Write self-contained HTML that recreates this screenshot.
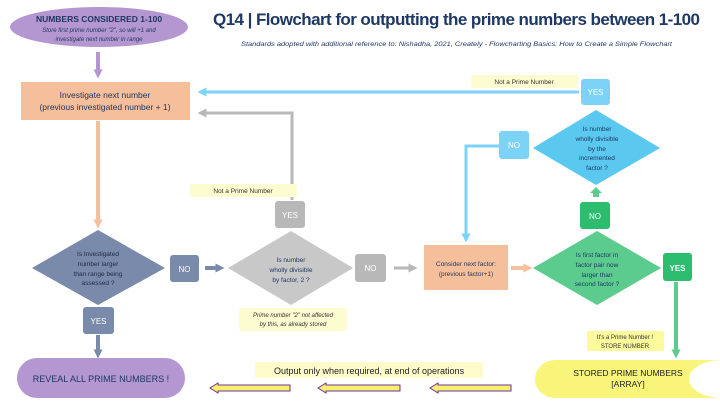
<!DOCTYPE html>
<html><head><style>body{margin:0;background:#fff}svg{display:block}text{font-family:"Liberation Sans",sans-serif}</style></head><body>
<svg width="720" height="405" viewBox="0 0 720 405" xmlns="http://www.w3.org/2000/svg">
<defs>
<marker id="a" markerWidth="9" markerHeight="9" refX="4.5" refY="4.5" orient="auto" markerUnits="userSpaceOnUse"><path d="M0,0L9,4.5L0,9z" fill="context-stroke"/></marker>
</defs>
<ellipse cx="99" cy="27" rx="89" ry="20" fill="#b497d0"/>
<text x="99" y="22" text-anchor="middle" font-size="8.5" font-weight="bold" fill="#1f3864">NUMBERS CONSIDERED 1-100</text>
<text x="99" y="32" text-anchor="middle" font-size="6" font-style="italic" fill="#1f3864">Store first prime number "2",  so will +1 and</text>
<text x="99" y="41" text-anchor="middle" font-size="6" font-style="italic" fill="#1f3864">investigate next number in range</text>
<text x="213" y="25" font-size="17" font-weight="bold" fill="#1f3864" textLength="487">Q14 | Flowchart for outputting the prime numbers between 1-100</text>
<text x="241" y="46" font-size="6" font-style="italic" fill="#1f3864" textLength="431" lengthAdjust="spacingAndGlyphs">Standards adopted with additional reference to:  Nishadha, 2021, Creately - Flowcharting Basics: How to Create a Simple Flowchart</text>
<line x1="98" y1="52" x2="98" y2="74" stroke="#b497d0" stroke-width="4" marker-end="url(#a)"/>
<rect x="21" y="82" width="169" height="38" fill="#f5bf9b"/>
<text x="105" y="98" text-anchor="middle" font-size="8.5" fill="#1f3864">Investigate next number</text>
<text x="105" y="110" text-anchor="middle" font-size="8.5" fill="#1f3864">(previous investigated number + 1)</text>
<line x1="579" y1="92" x2="202" y2="92" stroke="#7dd3f5" stroke-width="3" marker-end="url(#a)"/>
<polyline points="292,200 292,113 202,113" fill="none" stroke="#b8b8b8" stroke-width="3" marker-end="url(#a)"/>
<line x1="98" y1="121" x2="98" y2="224" stroke="#f5bf9b" stroke-width="4" marker-end="url(#a)"/>
<polygon points="98,230 165,268 98,305 32,268" fill="#7a8aab"/>
<text font-size="6.5" fill="#1f2a44" text-anchor="middle"><tspan x="98" y="256">Is Investigated</tspan><tspan x="98" y="266">number larger</tspan><tspan x="98" y="276">than range being</tspan><tspan x="98" y="285">assessed ?</tspan></text>
<rect x="170" y="255" width="29" height="27" rx="3" fill="#7a8aab"/><text x="184.5" y="272" text-anchor="middle" font-size="8" fill="#fff">NO</text>
<line x1="205" y1="268" x2="220" y2="268" stroke="#7a8aab" stroke-width="4" marker-end="url(#a)"/>
<rect x="83" y="307" width="31" height="27" rx="3" fill="#7a8aab"/><text x="98.5" y="324" text-anchor="middle" font-size="8" fill="#fff">YES</text>
<line x1="98" y1="335" x2="98" y2="354" stroke="#7a8aab" stroke-width="4" marker-end="url(#a)"/>
<rect x="17" y="358" width="168" height="40" rx="20" fill="#b497d0"/>
<text x="101" y="382" text-anchor="middle" font-size="9" fill="#1f3864">REVEAL ALL PRIME NUMBERS !</text>
<polygon points="291,231 353,268 291,305 228,268" fill="#c8c8c8"/>
<text font-size="6.5" fill="#1f3864" text-anchor="middle"><tspan x="291" y="262">Is number</tspan><tspan x="291" y="272">wholly divisible</tspan><tspan x="291" y="282">by factor, 2 ?</tspan></text>
<rect x="190" y="184" width="107" height="13" rx="2" fill="#fdfcd0"/><text x="243" y="193" text-anchor="middle" font-size="6.5" fill="#333">Not a Prime Number</text>
<rect x="275" y="201" width="30" height="27" rx="3" fill="#b8b8b8"/><text x="290" y="218" text-anchor="middle" font-size="8" fill="#fff">YES</text>
<rect x="355" y="254" width="31" height="28" rx="3" fill="#b8b8b8"/><text x="370.5" y="271" text-anchor="middle" font-size="8" fill="#fff">NO</text>
<line x1="394" y1="268" x2="413" y2="268" stroke="#b8b8b8" stroke-width="3" marker-end="url(#a)"/>
<rect x="239" y="308" width="108" height="23" rx="3" fill="#fdfcd0"/>
<text font-size="6" font-style="italic" fill="#333" text-anchor="middle"><tspan x="293" y="317">Prime number "2" not affected</tspan><tspan x="293" y="326">by this, as already stored</tspan></text>
<rect x="255" y="362" width="228" height="16" fill="#fffccc"/>
<text x="369" y="374" text-anchor="middle" font-size="9" fill="#222">Output only when required, at end of operations</text>
<g fill="#f7f06a" stroke="#7030a0" stroke-width="1">
<path d="M290,385 L218,385 L218,383 L210,388 L218,393 L218,391 L290,391z"/>
<path d="M400,385 L326,385 L326,383 L318,388 L326,393 L326,391 L400,391z"/>
<path d="M511,385 L438,385 L438,383 L430,388 L438,393 L438,391 L511,391z"/>
</g>
<path d="M555,360 L720,360 L720,398 L555,398 A20,19 0 0 1 555,360z" fill="#f9f57a"/>
<ellipse cx="722" cy="379" rx="33" ry="19" fill="#fff"/>
<text x="628" y="376" text-anchor="middle" font-size="8.5" fill="#222">STORED PRIME NUMBERS</text>
<text x="628" y="387" text-anchor="middle" font-size="8.5" fill="#222">[ARRAY]</text>
<rect x="424" y="245" width="84" height="45" fill="#f5bf9b"/>
<text font-size="6.5" fill="#1f3864" text-anchor="middle"><tspan x="466" y="266">Consider next factor:</tspan><tspan x="466" y="276">(previous factor+1)</tspan></text>
<line x1="511" y1="268" x2="528" y2="268" stroke="#f5bf9b" stroke-width="4" marker-end="url(#a)"/>
<polygon points="597,231 661,268 597,305 533,268" fill="#5ccb8e"/>
<text font-size="6.5" fill="#1f3864" text-anchor="middle"><tspan x="597" y="257">Is first factor in</tspan><tspan x="597" y="267">factor pair now</tspan><tspan x="597" y="277">larger than</tspan><tspan x="597" y="286">second factor ?</tspan></text>
<rect x="663" y="253" width="29" height="28" rx="3" fill="#2dbd6e"/><text x="677.5" y="271" text-anchor="middle" font-size="8" font-weight="bold" fill="#fff">YES</text>
<line x1="676" y1="282" x2="676" y2="354" stroke="#5ccb8e" stroke-width="4" marker-end="url(#a)"/>
<rect x="587" y="331" width="77" height="20" rx="2" fill="#fdfa9c"/>
<text font-size="6" fill="#333" text-anchor="middle"><tspan x="625" y="339">It's a Prime Number !</tspan><tspan x="625" y="348">STORE NUMBER</tspan></text>
<rect x="580" y="202" width="30" height="27" rx="3" fill="#2dbd6e"/><text x="595" y="219" text-anchor="middle" font-size="8" fill="#fff">NO</text>
<path d="M593,197 L593,193 L590,193 L596,187 L602,193 L599,193 L599,197z" fill="#5ccb8e"/>
<polygon points="596,110 660,148 596,185 533,148" fill="#5bc8f0"/>
<text font-size="6.5" fill="#1f3864" text-anchor="middle"><tspan x="597" y="131">Is number</tspan><tspan x="597" y="141">wholly divisible</tspan><tspan x="597" y="151">by the</tspan><tspan x="597" y="160">incremented</tspan><tspan x="597" y="170">factor ?</tspan></text>
<rect x="499" y="131" width="30" height="28" rx="3" fill="#7dd3f5"/><text x="514" y="148" text-anchor="middle" font-size="8" fill="#fff">NO</text>
<polyline points="499,146 466,146 466,238" fill="none" stroke="#7dd3f5" stroke-width="3" marker-end="url(#a)"/>
<rect x="581" y="79" width="29" height="26" rx="3" fill="#7dd3f5"/><text x="595.5" y="95" text-anchor="middle" font-size="8" fill="#fff">YES</text>
<rect x="471" y="75" width="107" height="13" rx="2" fill="#fdfcd0"/><text x="524" y="84" text-anchor="middle" font-size="6.5" fill="#333">Not a Prime Number</text>
</svg>
</body></html>
